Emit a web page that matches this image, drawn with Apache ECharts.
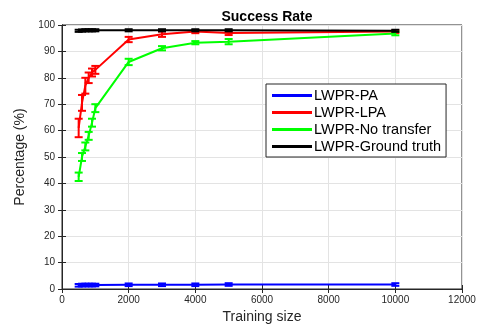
<!DOCTYPE html>
<html><head><meta charset="utf-8">
<script src="https://cdn.jsdelivr.net/npm/echarts@6/dist/echarts.min.js"></script>
<style>html,body{margin:0;padding:0;background:#fff}#c{width:489px;height:329px}</style>
</head><body><div id="c"></div>
<script>
var trainingSize = [500, 600, 700, 800, 900, 1000, 2000, 3000, 4000, 5000, 10000];
var paMean = [1.4, 1.5, 1.5, 1.5, 1.5, 1.5, 1.6, 1.6, 1.6, 1.7, 1.7];
var paErr = [0.5, 0.5, 0.5, 0.5, 0.5, 0.5, 0.5, 0.5, 0.5, 0.5, 0.5];
var lpaMean = [61, 70.5, 77, 80, 82, 83, 94.5, 96.5, 97.5, 97, 97.5];
var lpaErr = [3.5, 3, 3, 2, 1.5, 1.5, 1, 1, 0.6, 0.8, 0.5];
var ntMean = [42.5, 50, 54, 58, 63, 68.5, 86, 91.2, 93.3, 93.7, 96.8];
var ntErr = [1.6, 1.5, 1.5, 1.5, 1.5, 1.5, 1.2, 0.8, 0.6, 1, 0.7];
var gtMean = [97.8, 97.9, 98, 98, 98, 98, 98, 98, 98, 98, 97.8];
var gtErr = [0.4, 0.4, 0.4, 0.4, 0.4, 0.4, 0.4, 0.4, 0.4, 0.4, 0.4];
var seriesNames = ['LWPR-PA', 'LWPR-LPA', 'LWPR-No transfer', 'LWPR-Ground truth'];
var seriesColors = ['#0000ff', '#ff0000', '#00ff00', '#000000'];
var yTicks = [0, 10, 20, 30, 40, 50, 60, 70, 80, 90, 100];
var xTicks = [0, 2000, 4000, 6000, 8000, 10000, 12000];

var means = [paMean, lpaMean, ntMean, gtMean];
var errs = [paErr, lpaErr, ntErr, gtErr];
var font = 'Liberation Sans, Arial, Helvetica, sans-serif';

function pairs(m) { return trainingSize.map(function (x, i) { return [x, m[i]]; }); }
function errData(m, e) { return trainingSize.map(function (x, i) { return [x, m[i] - e[i], m[i] + e[i]]; }); }

var series = [];
for (var k = 0; k < 4; k++) {
  series.push({
    name: seriesNames[k], type: 'line', data: pairs(means[k]), symbol: 'none',
    lineStyle: { color: seriesColors[k], width: 2 }, itemStyle: { color: seriesColors[k] },
    z: 3 + k, animation: false
  });
  (function (col, kk) {
    series.push({
      name: 'err' + kk, type: 'custom', data: errData(means[kk], errs[kk]), z: 3 + kk, animation: false,
      encode: { x: 0, y: [1, 2] },
      renderItem: function (params, api) {
        var x = api.value(0);
        var lo = api.coord([x, api.value(1)]);
        var hi = api.coord([x, api.value(2)]);
        var hw = 4;
        var st = { stroke: col, lineWidth: 2, fill: null };
        return { type: 'group', children: [
          { type: 'line', shape: { x1: lo[0], y1: lo[1], x2: hi[0], y2: hi[1] }, style: st },
          { type: 'line', shape: { x1: lo[0] - hw, y1: lo[1], x2: lo[0] + hw, y2: lo[1] }, style: st },
          { type: 'line', shape: { x1: hi[0] - hw, y1: hi[1], x2: hi[0] + hw, y2: hi[1] }, style: st }
        ] };
      }
    });
  })(seriesColors[k], k);
}

var tickStyle = { show: true, inside: true, length: 4, lineStyle: { color: '#262626' } };
var lineStyleAx = { show: true, lineStyle: { color: '#262626' } };

var chart = echarts.init(document.getElementById('c'));
chart.setOption({
  animation: false,
  backgroundColor: '#fff',
  title: { text: 'Success Rate', left: 262, top: 5, textAlign: 'center',
    textStyle: { fontFamily: font, fontSize: 14, fontWeight: 'bold', color: '#000' } },
  grid: { left: 62, right: 27, top: 25, bottom: 40, show: true, borderColor: '#262626', borderWidth: 1, backgroundColor: '#fff' },
  legend: {
    data: seriesNames, orient: 'vertical', left: 266, top: 84,
    backgroundColor: '#fff', borderColor: '#262626', borderWidth: 1, padding: [4, 5, 3, 6],
    itemWidth: 40, itemHeight: 3, itemGap: 2, icon: 'rect',
    textStyle: { fontFamily: font, fontSize: 14.5, color: '#000', padding: [0, 0, 0, -3] }
  },
  xAxis: [{
    type: 'value', min: 0, max: 12000, interval: 2000,
    name: 'Training size', nameLocation: 'middle', nameGap: 21,
    nameTextStyle: { fontFamily: font, fontSize: 14, color: '#262626' },
    axisLine: lineStyleAx, axisTick: tickStyle,
    axisLabel: { fontFamily: font, fontSize: 10, color: '#262626', margin: 6, formatter: function (v) { return String(v); } },
    splitLine: { show: true, lineStyle: { color: '#e3e3e3', width: 1 } }
  }, {
    type: 'value', min: 0, max: 12000, interval: 2000, position: 'top',
    axisLine: lineStyleAx, axisTick: tickStyle, axisLabel: { show: false }, splitLine: { show: false }
  }],
  yAxis: [{
    type: 'value', min: 0, max: 100, interval: 10,
    name: 'Percentage (%)', nameLocation: 'middle', nameGap: 34,
    nameTextStyle: { fontFamily: font, fontSize: 14, color: '#262626' },
    axisLine: lineStyleAx, axisTick: tickStyle,
    axisLabel: { fontFamily: font, fontSize: 10, color: '#262626', margin: 7 },
    splitLine: { show: true, lineStyle: { color: '#e3e3e3', width: 1 } }
  }, {
    type: 'value', min: 0, max: 100, interval: 10, position: 'right',
    axisLine: lineStyleAx, axisTick: tickStyle, axisLabel: { show: false }, splitLine: { show: false }
  }],
  series: series
});
</script></body></html>
